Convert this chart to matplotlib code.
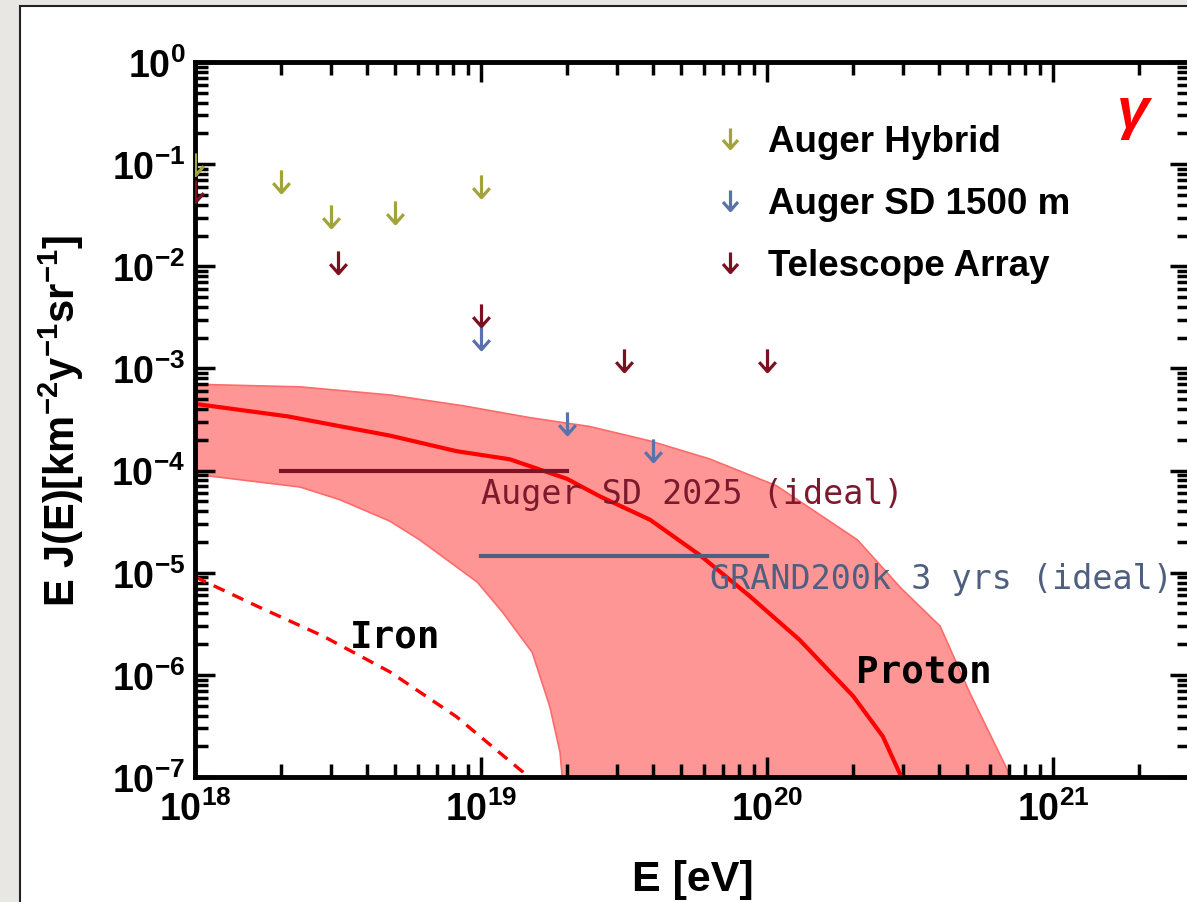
import numpy as np
import matplotlib
matplotlib.use("Agg")
import matplotlib.pyplot as plt
from matplotlib.path import Path
from matplotlib.patches import Rectangle
from matplotlib.ticker import LogLocator, NullFormatter

plt.rcParams['font.family'] = ['Liberation Sans', 'DejaVu Sans']
plt.rcParams['font.weight'] = 'bold'
plt.rcParams['axes.labelweight'] = 'bold'
plt.rcParams['mathtext.default'] = 'regular'

# upper limits on the photon flux, E [eV] and E J(E)
hyb_E = [1e18, 2e18, 3e18, 5e18, 1e19]
hyb_J = [0.10, 0.068, 0.031, 0.034, 0.061]
sd_E = [1e19, 2e19, 4e19]
sd_J = [2.0e-3, 2.9e-4, 1.6e-4]
ta_E = [1e18, 3.16e18, 1e19, 3.16e19, 1e20]
ta_J = [0.055, 0.011, 3.3e-3, 1.2e-3, 1.2e-3]

# proton band, upper and lower edges
band_hi_E = [1.0e18, 2.33e18, 4.8e18, 8.7e18, 1.48e19, 2.4e19, 3.9e19, 6.3e19,
             1.08e20, 2.07e20, 2.95e20, 4.03e20, 5.1e20, 6.9e20, 7.4e20]
band_hi_J = [7.0e-4, 6.6e-4, 5.5e-4, 4.3e-4, 3.3e-4, 2.7e-4, 1.95e-4, 1.3e-4,
             7.1e-5, 2.1e-5, 7.0e-6, 3.0e-6, 6.8e-7, 1.2e-7, 6.3e-8]
band_lo_E = [1.0e18, 2.33e18, 3.2e18, 4.8e18, 6.1e18, 9.7e18, 1.19e19, 1.51e19,
             1.74e19, 1.89e19, 1.95e19]
band_lo_J = [9.2e-5, 6.9e-5, 5.2e-5, 3.2e-5, 2.1e-5, 8.1e-6, 4.1e-6, 1.66e-6,
             4.9e-7, 1.74e-7, 6.3e-8]

# proton central curve
prot_E = [1.0e18, 2.1e18, 4.8e18, 8.2e18, 1.26e19, 2.0e19, 2.6e19, 3.9e19,
          5.8e19, 8.7e19, 1.3e20, 2.0e20, 2.54e20, 2.95e20, 3.1e20]
prot_J = [4.5e-4, 3.4e-4, 2.2e-4, 1.55e-4, 1.29e-4, 8.3e-5, 5.6e-5, 3.3e-5,
          1.5e-5, 5.9e-6, 2.2e-6, 6.2e-7, 2.5e-7, 1.0e-7, 6.3e-8]

# iron curve
iron_E = [1.0e18, 1.65e18, 2.8e18, 4.8e18, 8.2e18, 1.4e19, 1.48e19]
iron_J = [9.1e-6, 4.7e-6, 2.4e-6, 1.07e-6, 3.9e-7, 1.12e-7, 9.0e-8]

# expected sensitivities
auger25_E = [2e18, 2e19]
auger25_J = [1.0e-4, 1.0e-4]
grand_E = [1e19, 1e20]
grand_J = [1.45e-5, 1.45e-5]

W, H = 1187, 903
fig = plt.figure(figsize=(W / 100, H / 100), dpi=100, facecolor='#e9e7e3')
fig.patches.append(Rectangle((20 / W, -0.02), 1.1, (H - 7) / H + 0.02,
                             transform=fig.transFigure, facecolor='white',
                             edgecolor='#222222', lw=1.5, zorder=-5))
ax = fig.add_axes([195 / W, 1 - 778 / H, (1190 - 195) / W, (778 - 63) / H])
ax.set_facecolor('none')

ax.fill(np.concatenate([band_hi_E, band_lo_E[::-1]]),
        np.concatenate([band_hi_J, band_lo_J[::-1]]),
        facecolor='#ff9696', edgecolor='#ff6a6a', lw=1.2, zorder=1)
ax.plot(prot_E, prot_J, color='#ff0000', lw=3, zorder=2)
ax.plot(iron_E, iron_J, color='#ff0000', lw=2.4, ls=(0, (3.6, 2.6)), zorder=2)

ax.plot(auger25_E, auger25_J, color='#7a1426', lw=3, zorder=3)
ax.plot(grand_E, grand_J, color='#4f5f80', lw=3, zorder=3)

arrow = Path([(0, 1), (0, -1), (-0.75, -0.15), (0, -1), (0.75, -0.15)],
             [Path.MOVETO, Path.LINETO, Path.MOVETO, Path.LINETO, Path.LINETO])
mk = dict(ls='none', marker=arrow, ms=16, mew=2.3, mfc='none', zorder=4)
h1, = ax.plot(hyb_E, hyb_J, mec='#a3a33c', label='Auger Hybrid', **mk)
h2, = ax.plot(sd_E, sd_J, mec='#5a72aa', label='Auger SD 1500 m', **mk)
h3, = ax.plot(ta_E, ta_J, mec='#7b1020', label='Telescope Array', **mk)

ax.text(1e19, 5.9e-5, 'Auger SD 2025 (ideal)', family='DejaVu Sans Mono',
        weight='normal', fontsize=24, color='#7a1a2c', va='center', ha='left')
ax.text(6.3e19, 8.7e-6, 'GRAND200k 3 yrs (ideal)', family='DejaVu Sans Mono',
        weight='normal', fontsize=24, color='#4f5f80', va='center', ha='left')
ax.text(3.47e18, 2.4e-6, 'Iron', family='DejaVu Sans Mono', weight='bold',
        fontsize=27, color='black', va='center', ha='left')
ax.text(2.04e20, 1.07e-6, 'Proton', family='DejaVu Sans Mono', weight='bold',
        fontsize=27, color='black', va='center', ha='left')
ax.text(0.943, 0.930, 'γ', transform=ax.transAxes, color='#ff0000',
        fontsize=42, style='italic', weight='bold', ha='center', va='center')

ax.legend(handles=[h1, h2, h3], loc='upper left',
          bbox_to_anchor=(719 / W, 1 - 125 / H), bbox_transform=fig.transFigure,
          frameon=False, borderpad=0, borderaxespad=0, handlelength=0.6,
          handletextpad=0.73, labelspacing=0.73, markerscale=0.9, numpoints=1,
          prop={'family': 'Liberation Sans', 'weight': 'bold', 'size': 26.5})

ax.set_xscale('log')
ax.set_yscale('log')
ax.set_xlim(1e18, 10 ** (18 + 995 / 286))
ax.set_ylim(1e-7, 1)
ax.xaxis.set_major_locator(LogLocator(base=10, numticks=10))
ax.xaxis.set_minor_locator(LogLocator(base=10, subs=np.arange(2, 10), numticks=100))
ax.xaxis.set_minor_formatter(NullFormatter())
ax.yaxis.set_major_locator(LogLocator(base=10, numticks=20))
ax.yaxis.set_minor_locator(LogLocator(base=10, subs=np.arange(2, 10), numticks=100))
ax.yaxis.set_minor_formatter(NullFormatter())
ax.tick_params(which='both', direction='in', top=True, right=True, width=2.5,
               labelsize=27, pad=7)
ax.tick_params(axis='x', which='major', pad=10)
ax.tick_params(which='major', length=14.5)
ax.tick_params(which='minor', length=9.5)
for s in ax.spines.values():
    s.set_linewidth(3.5)

ax.set_xlabel('E [eV]', fontsize=31, fontweight='bold')
ax.xaxis.set_label_coords(0.5, -0.115)
ax.set_ylabel(r'E J(E)[km$^{\mathdefault{-2}}$y$^{\mathdefault{-1}}$'
              r'sr$^{\mathdefault{-1}}$]', fontsize=30, fontweight='bold')
ax.yaxis.set_label_coords(-0.11, 0.5)

fig.savefig('out.png', dpi=100, facecolor=fig.get_facecolor())
